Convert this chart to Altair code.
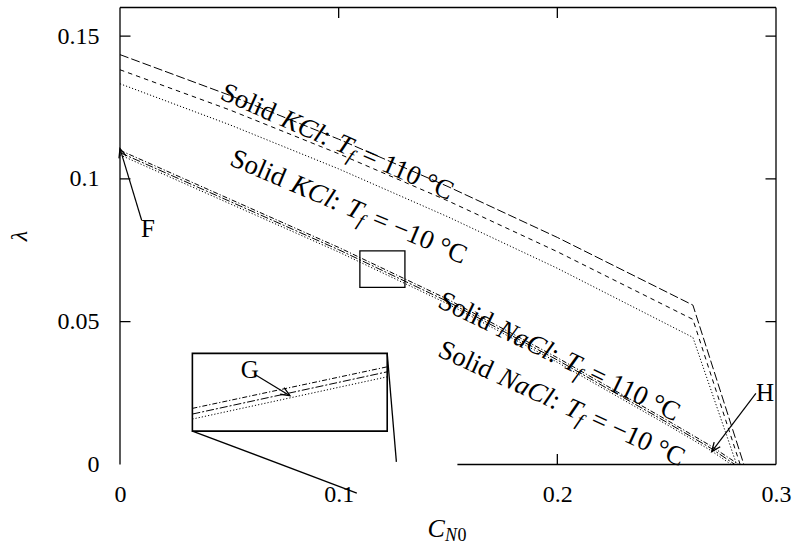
import math
import altair as alt
import pandas as pd

FONT = "Liberation Serif"
W, H = 656, 457
X_DOMAIN = [0.0, 0.3]
Y_DOMAIN = [0.0, 0.16]

x_ticks = [0.0, 0.1, 0.2, 0.3]
y_ticks = [0.0, 0.05, 0.1, 0.15]

# lambda versus C_N0, KCl-saturated branch (three model variants)
kcl_a_x = [0.0, 0.05, 0.10, 0.15, 0.20, 0.262, 0.2853]
kcl_a_y = [0.1435, 0.1293, 0.1139, 0.0973, 0.0795, 0.0558, 0.0]
kcl_b_x = [0.0, 0.05, 0.10, 0.15, 0.20, 0.262, 0.2836]
kcl_b_y = [0.1382, 0.1242, 0.1088, 0.0923, 0.0745, 0.0508, 0.0]
kcl_c_x = [0.0, 0.05, 0.10, 0.15, 0.20, 0.262, 0.2820]
kcl_c_y = [0.1333, 0.1190, 0.1035, 0.0867, 0.0687, 0.0445, 0.0]

# NaCl-saturated branch
nacl_a_x = [0.0, 0.05, 0.10, 0.15, 0.20, 0.25, 0.270, 0.2830]
nacl_a_y = [0.1100, 0.0930, 0.0760, 0.0578, 0.0374, 0.0156, 0.0066, 0.0]
nacl_b_x = [0.0, 0.05, 0.10, 0.15, 0.20, 0.25, 0.270, 0.2812]
nacl_b_y = [0.1092, 0.0922, 0.0752, 0.0570, 0.0366, 0.0148, 0.0058, 0.0]
nacl_c_x = [0.0, 0.05, 0.10, 0.15, 0.20, 0.25, 0.270, 0.2795]
nacl_c_y = [0.1084, 0.0914, 0.0744, 0.0562, 0.0358, 0.0140, 0.0050, 0.0]

# magnified view of the NaCl bundle (drawn inside the inset frame)
inset_x = [0.0331, 0.1222]
inset_top_y = [0.01965, 0.0342]
inset_mid_y = [0.01766, 0.03245]
inset_low_y = [0.01591, 0.0307]

# frames: zoom window and inset
zoom_box = {"x": [0.1097], "x2": [0.1303], "y": [0.0620], "y2": [0.0748]}
inset_box = {"x": [0.0331], "x2": [0.1222], "y": [0.0117], "y2": [0.0389]}

# connector lines from the inset
connectors = {"x": [0.0331, 0.1222], "y": [0.0117, 0.0389],
              "x2": [0.1083, 0.1264], "y2": [-0.0100, 0.0009]}

# annotation arrows: label, label position, tail, head
arrow_names = ["F", "G", "H"]
arrow_label_x = [0.0128, 0.0594, 0.2950]
arrow_label_y = [0.0826, 0.0330, 0.0250]
arrow_tail_x = [0.0099, 0.0617, 0.2908]
arrow_tail_y = [0.0855, 0.0315, 0.0249]
arrow_head_x = [0.0, 0.0777, 0.2706]
arrow_head_y = [0.1106, 0.0241, 0.0045]

# curve labels: position (centre), angle
label_pos_x = [0.0997, 0.1047, 0.2012, 0.2021]
label_pos_y = [0.1131, 0.0904, 0.0379, 0.0215]
label_angle = [23.9, 23.1, 25.8, 24.5]
label_salt = ["KCl", "KCl", "NaCl", "NaCl"]
label_temp = ["110", "\u221210", "110", "\u221210"]

# bottom border is only drawn where the inset does not cover it
bottom_border_from = 0.1543

xs = alt.Scale(domain=X_DOMAIN, nice=False, zero=False)
ys = alt.Scale(domain=Y_DOMAIN, nice=False, zero=False)

x_axis = alt.Axis(
    values=x_ticks, format="~g", domain=False, ticks=False, grid=False,
    labelFont=FONT, labelFontSize=24, labelColor="black", labelPadding=18,
    labelFlush=False, labelOverlap=False, title=None)
y_axis = alt.Axis(
    values=y_ticks, format="~g", domain=False, ticks=False, grid=False,
    labelFont=FONT, labelFontSize=24, labelColor="black", labelPadding=21,
    labelFlush=False, labelOverlap=False,
    title="\u03bb", titleFont=FONT, titleFontSize=24, titleFontStyle="italic",
    titleFontWeight="normal", titleColor="black", titleAngle=270,
    titleX=-101, titleY=228, titleAlign="center", titleBaseline="middle")


def X(field="x"):
    return alt.X(f"{field}:Q", scale=xs, axis=x_axis)


def Y(field="y"):
    return alt.Y(f"{field}:Q", scale=ys, axis=y_axis)


layers = []

# frame
frame = pd.DataFrame({
    "x": [X_DOMAIN[0], X_DOMAIN[0], X_DOMAIN[1], bottom_border_from],
    "x2": [X_DOMAIN[1], X_DOMAIN[0], X_DOMAIN[1], X_DOMAIN[1]],
    "y": [Y_DOMAIN[1], Y_DOMAIN[0], Y_DOMAIN[0], Y_DOMAIN[0]],
    "y2": [Y_DOMAIN[1], Y_DOMAIN[1], Y_DOMAIN[1], Y_DOMAIN[0]],
})
layers.append(
    alt.Chart(frame).mark_rule(color="black", strokeWidth=1.3, clip=False).encode(
        x=X(), x2="x2:Q", y=Y(), y2="y2:Q")
)

# inward ticks on all four sides
ytick_df = pd.DataFrame({
    "x": [X_DOMAIN[0]] * 3 + [X_DOMAIN[1]] * 3,
    "y": y_ticks[1:] + y_ticks[1:],
})
xtick_df = pd.DataFrame({
    "x": x_ticks[1:3] + [x_ticks[2]],
    "y": [Y_DOMAIN[1]] * 2 + [Y_DOMAIN[0]],
})
layers.append(alt.Chart(ytick_df).mark_tick(
    orient="horizontal", size=21, thickness=1.3, color="black", clip=True, opacity=1
).encode(x=X(), y=Y()))
layers.append(alt.Chart(xtick_df).mark_tick(
    orient="vertical", size=21, thickness=1.3, color="black", clip=True, opacity=1
).encode(x=X(), y=Y()))


def curve(xv, yv, dash):
    df = pd.DataFrame({"x": xv, "y": yv, "i": list(range(len(xv)))})
    return alt.Chart(df).mark_line(
        color="black", strokeWidth=1.0, strokeDash=dash
    ).encode(x=X(), y=Y(), order="i:Q")


LONG_DASH = [9, 3]
SHORT_DASH = [4.5, 4]
DOTTED = [1.2, 2]
DASH_DOT = [5, 2, 1.2, 2]
LONG_DASH_DOT = [8, 2, 2, 2]

layers += [
    curve(kcl_a_x, kcl_a_y, LONG_DASH),
    curve(kcl_b_x, kcl_b_y, SHORT_DASH),
    curve(kcl_c_x, kcl_c_y, DOTTED),
    curve(nacl_a_x, nacl_a_y, DASH_DOT),
    curve(nacl_b_x, nacl_b_y, LONG_DASH_DOT),
    curve(nacl_c_x, nacl_c_y, DOTTED),
]

# zoom window and inset frame
layers.append(alt.Chart(pd.DataFrame(zoom_box)).mark_rect(
    fill=None, stroke="black", strokeWidth=1.3
).encode(x=X(), x2="x2:Q", y=Y(), y2="y2:Q"))
layers.append(alt.Chart(pd.DataFrame(inset_box)).mark_rect(
    fill="white", stroke="black", strokeWidth=1.6
).encode(x=X(), x2="x2:Q", y=Y(), y2="y2:Q"))
layers += [
    curve(inset_x, inset_top_y, DASH_DOT),
    curve(inset_x, inset_mid_y, LONG_DASH_DOT),
    curve(inset_x, inset_low_y, DOTTED),
]
layers.append(alt.Chart(pd.DataFrame(connectors)).mark_rule(
    color="black", strokeWidth=1.3, clip=False
).encode(x=X(), x2="x2:Q", y=Y(), y2="y2:Q"))

# arrows
px_x = W / (X_DOMAIN[1] - X_DOMAIN[0])
px_y = H / (Y_DOMAIN[1] - Y_DOMAIN[0])
arrow_df = pd.DataFrame({
    "name": arrow_names,
    "lx": arrow_label_x, "ly": arrow_label_y,
    "tx": arrow_tail_x, "ty": arrow_tail_y,
    "hx": arrow_head_x, "hy": arrow_head_y,
})
layers.append(alt.Chart(arrow_df).mark_rule(color="black", strokeWidth=1.2).encode(
    x=X("tx"), y=Y("ty"), x2="hx:Q", y2="hy:Q"))
HEAD = "M -1 -0.42 L 0 0 L -1 0.42"
for i in range(len(arrow_names)):
    dxp = (arrow_head_x[i] - arrow_tail_x[i]) * px_x
    dyp = -(arrow_head_y[i] - arrow_tail_y[i]) * px_y
    ang = math.degrees(math.atan2(dyp, dxp)) % 360
    layers.append(alt.Chart(arrow_df.iloc[[i]]).mark_point(
        shape=HEAD, size=330, filled=False, stroke="black", strokeWidth=1.3,
        opacity=1, angle=ang
    ).encode(x=X("hx"), y=Y("hy")))
layers.append(alt.Chart(arrow_df).mark_text(
    font=FONT, fontSize=25, color="black", align="center", baseline="middle"
).encode(x=X("lx"), y=Y("ly"), text="name:N"))


def rotated_label(cx, cy, angle, pieces, fs):
    """pieces: (text, italic, relative size, rise in em, advance in em, gap in em)"""
    total = sum(p[4] + p[5] for p in pieces) - pieces[-1][5]
    pos = -total / 2
    out = []
    df = pd.DataFrame({"x": [cx], "y": [cy]})
    for text, italic, rel, rise, adv, gap in pieces:
        out.append(alt.Chart(df).mark_text(
            text=text, font=FONT, fontSize=fs * rel,
            fontStyle="italic" if italic else "normal", color="black",
            angle=angle, align="left", baseline="alphabetic",
            dx=pos * fs, dy=(0.33 + rise) * fs,
        ).encode(x=X(), y=Y()))
        pos += adv + gap
    return out


SALT_WIDTH = {"KCl": 1.612, "NaCl": 2.112}
TEMP_WIDTH = {"110": 3.631, "\u221210": 3.695}
LABEL_FS = 27
for i in range(4):
    pieces = [
        ("Solid", False, 1.0, 0.0, 2.112, 0.33),
        (label_salt[i], True, 1.0, 0.0, SALT_WIDTH[label_salt[i]], 0.0),
        (":", False, 1.0, 0.0, 0.278, 0.33),
        ("T", True, 1.0, 0.0, 0.556, 0.0),
        ("f", True, 0.7, 0.2, 0.195, 0.30),
        (f"= {label_temp[i]} \u00b0C", False, 1.0, 0.0, TEMP_WIDTH[label_temp[i]], 0.0),
    ]
    layers += rotated_label(label_pos_x[i], label_pos_y[i], label_angle[i], pieces, LABEL_FS)

# x-axis title C_{N0}
xt = pd.DataFrame({"x": [0.1486], "y": [-0.0254]})
layers.append(alt.Chart(xt).mark_text(
    text="C", font=FONT, fontSize=26, fontStyle="italic", color="black",
    align="right", baseline="alphabetic").encode(x=X(), y=Y()))
layers.append(alt.Chart(xt).mark_text(
    text="N", font=FONT, fontSize=18, fontStyle="italic", color="black",
    align="left", baseline="alphabetic", dx=0, dy=4).encode(x=X(), y=Y()))
layers.append(alt.Chart(xt).mark_text(
    text="0", font=FONT, fontSize=18, color="black",
    align="left", baseline="alphabetic", dx=12.5, dy=4).encode(x=X(), y=Y()))

chart = alt.layer(*layers).properties(
    width=W, height=H,
    autosize=alt.AutoSizeParams(type="none"),
    padding={"left": 120, "top": 7.5, "right": 21, "bottom": 83.5},
    background="white",
).configure_view(stroke=None)

chart.save("out.html", embed_options={"renderer": "svg", "actions": False})
